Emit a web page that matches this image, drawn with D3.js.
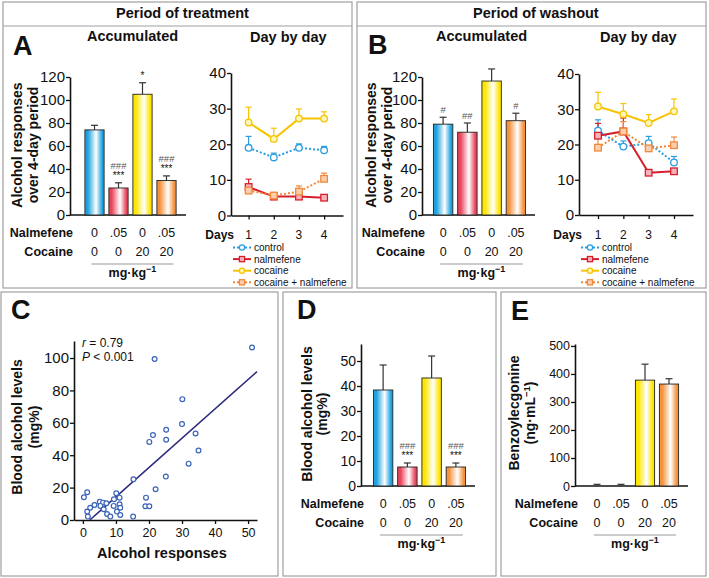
<!DOCTYPE html>
<html><head><meta charset="utf-8">
<script src="https://cdn.jsdelivr.net/npm/d3@7"></script>
<style>
body{margin:0;background:#fff}
text{font-family:"Liberation Sans",Arial,sans-serif;fill:#111}
</style></head>
<body><svg id="fig" width="709" height="578"></svg>
<script>
const groups = ["control", "nalmefene", "cocaine", "cocaine + nalmefene"];
const nalmefeneDoses = ["0", ".05", "0", ".05"];
const cocaineDoses = ["0", "0", "20", "20"];
const days = [1, 2, 3, 4];

// A - accumulated, treatment
const treatAccMean = [74, 23.5, 105, 30];
const treatAccSem = [4, 4.5, 10, 4];
const treatAccMarks = [[], ["***", "###"], ["*"], ["***", "###"]];
// B - accumulated, washout
const washAccMean = [79, 72, 116.5, 82];
const washAccSem = [6, 8, 10.5, 6.5];
const washAccMarks = [["#"], ["##"], [], ["#"]];

// day by day, treatment
const treatControl = [19.0, 16.3, 19.0, 18.3], treatControlSem = [3.2, 1.2, 1.1, 1.1];
const treatNalm = [8.0, 5.3, 5.3, 5.0], treatNalmSem = [2.2, 0.5, 0.4, 0.4];
const treatCoc = [26.1, 21.5, 27.2, 27.2], treatCocSem = [4.3, 3.0, 2.7, 1.9];
const treatCocNal = [7.0, 5.6, 6.7, 10.3], treatCocNalSem = [0.8, 0.5, 1.6, 1.6];
// day by day, washout
const washControl = [23.9, 19.4, 20.4, 14.9], washControlSem = [3.1, 1.6, 1.9, 1.7];
const washNalm = [22.5, 23.7, 12.0, 12.4], washNalmSem = [3.5, 3.8, 0.4, 0.5];
const washCoc = [30.8, 28.6, 26.1, 29.4], washCocSem = [4.0, 3.0, 2.4, 3.5];
const washCocNal = [19.1, 23.7, 18.9, 19.8], washCocNalSem = [3.0, 2.8, 1.5, 2.3];

// C - correlation
const alcoholResponses = [21.7, 30.1, 30.0, 25.2, 21.2, 20.1, 25.2, 34.1, 35.0, 32.0, 25.1, 15.3, 22.0, 19.1, 18.9, 20.1, 15.2,
  0.3, 1.3, 1.3, 1.5, 2.2, 3.5, 5.1, 6.1, 7.1, 5.3, 6.3, 7.3, 8.3, 9.3, 9.4, 10.1, 11.1, 11.1, 11.3, 10.3, 11.3, 51.2];
const bloodAlcohol = [99.4, 74.6, 59.2, 55.7, 52.4, 48.2, 49.5, 53.4, 42.9, 34.8, 26.8, 25.2, 19.0, 13.8, 8.5, 8.5, 2.1,
  14.0, 17.1, 5.2, 2.1, 7.6, 9.3, 11.3, 10.7, 10.3, 8.7, 6.6, 3.7, 2.1, 8.7, 12.8, 16.5, 13.8, 9.7, 7.6, 5.2, 3.1, 106.5];
const regSlope = 1.81, regIntercept = -3.8;

// D - blood alcohol
const bloodMean = [38.4, 7.6, 43.2, 7.6];
const bloodSem = [10, 1.6, 8.8, 1.6];
const bloodMarks = [[], ["***", "###"], [], ["***", "###"]];
// E - benzoylecgonine
const bzeMean = [1, 1, 378, 364];
const bzeSem = [5, 5, 57, 19];

const barColors = ["#1ea2df", "#e8465c", "#ffe500", "#f4923c"];
const lineColors = ["#2a9ee0", "#d61f2c", "#f6c400", "#f0893a"];
const markerFills = ["#ffffff", "#f7b3bb", "#fff6b8", "#fbcfae"];
const markerShapes = ["circle", "square", "circle", "square"];
const lineDash = ["2,2", null, null, "2,2"];

const svg = d3.select("#fig");
const defs = svg.append("defs");
barColors.forEach(function (c, i) {
    const g = defs.append("linearGradient").attr("id", "bar" + i)
        .attr("x1", "0").attr("x2", "1").attr("y1", "0").attr("y2", "0");
    [[0, c], [0.15, c], [0.58, "#ffffff"], [0.9, c], [1, c]].forEach(function (s) {
        g.append("stop").attr("offset", s[0]).attr("stop-color", s[1]);
    });
});

function box(x, y, w, h) {
    svg.append("rect").attr("x", x).attr("y", y).attr("width", w).attr("height", h)
        .attr("fill", "none").attr("stroke", "#a0a0a0").attr("stroke-width", 1.2);
}
function txt(x, y, s, size, weight, anchor) {
    return svg.append("text").attr("x", x).attr("y", y).text(s)
        .style("font-size", size + "px").style("font-weight", weight || "normal")
        .attr("text-anchor", anchor || "start");
}
function vlabel(x, cy, s, size) {
    return svg.append("text").attr("transform", "translate(" + x + "," + cy + ") rotate(-90)")
        .attr("text-anchor", "middle").style("font-size", size + "px").style("font-weight", "bold").text(s);
}
function styleAxis(g, size) {
    g.select(".domain").attr("stroke", "#111").attr("stroke-width", 1.6);
    g.selectAll(".tick line").attr("stroke", "#111").attr("stroke-width", 1.3);
    g.selectAll(".tick text").style("font-size", size + "px").attr("fill", "#111")
        .style("font-family", "Liberation Sans, Arial, sans-serif");
}

// frames
box(3, 2, 349, 286);
box(357, 2, 349, 286);
svg.append("line").attr("x1", 3).attr("x2", 352).attr("y1", 26).attr("y2", 26).attr("stroke", "#a0a0a0").attr("stroke-width", 1.2);
svg.append("line").attr("x1", 357).attr("x2", 706).attr("y1", 26).attr("y2", 26).attr("stroke", "#a0a0a0").attr("stroke-width", 1.2);
box(1, 292, 277, 284);
box(283, 292, 213, 284);
box(501, 292, 205, 284);

txt(116, 18, "Period of treatment", 14.5, "bold");
txt(473, 18, "Period of washout", 14.5, "bold");
txt(13, 55, "A", 27, "bold");
txt(368, 54, "B", 27, "bold");
txt(11, 319, "C", 27, "bold");
txt(297, 319, "D", 27, "bold");
txt(511, 320, "E", 27, "bold");
txt(87, 41, "Accumulated", 14.5, "bold");
txt(436, 41, "Accumulated", 14.5, "bold");
txt(250, 42, "Day by day", 14.5, "bold");
txt(600, 42, "Day by day", 14.5, "bold");

function barPanel(c) {
    const y = d3.scaleLinear().domain([0, c.yMax]).range([c.y0, c.yTop]);
    const x = d3.scaleBand().domain(groups).range(c.band).paddingInner(0.2).paddingOuter(0.1);
    const ax = svg.append("g").attr("transform", "translate(" + c.axisX + ",0)")
        .call(d3.axisLeft(y).tickValues(c.ticks).tickSize(4).tickSizeOuter(0).tickPadding(1));
    styleAxis(ax, c.tickSize);
    svg.append("line").attr("x1", c.axisX).attr("x2", c.xEnd).attr("y1", c.y0).attr("y2", c.y0)
        .attr("stroke", "#111").attr("stroke-width", 1.6);
    groups.forEach(function (gname, i) {
        const bx = x(gname), bw = x.bandwidth(), cx = bx + bw / 2;
        const top = y(c.mean[i] + c.sem[i]);
        svg.append("line").attr("x1", cx).attr("x2", cx).attr("y1", y(c.mean[i])).attr("y2", top)
            .attr("stroke", "#333").attr("stroke-width", 1.2);
        svg.append("line").attr("x1", cx - 3.5).attr("x2", cx + 3.5).attr("y1", top).attr("y2", top)
            .attr("stroke", "#333").attr("stroke-width", 1.2);
        if (c.mean[i] > 2) {
            svg.append("rect").attr("x", bx).attr("y", y(c.mean[i])).attr("width", bw)
                .attr("height", c.y0 - y(c.mean[i])).attr("fill", "url(#bar" + i + ")")
                .attr("stroke", "#222").attr("stroke-width", 0.9);
        }
        (c.marks ? c.marks[i] : []).forEach(function (m, k) {
            const t = txt(cx, top - 4 - 10 * k, m, 10, "normal", "middle");
            if (m[0] == "#") t.style("fill", "#555").style("font-size", "9.5px");
        });
    });
    // dose table
    const c0 = x(groups[0]) + x.bandwidth() / 2, c3 = x(groups[3]) + x.bandwidth() / 2;
    txt(c.axisX + 3, c.y0 + 22, "Nalmefene", 12.5, "bold", "end");
    txt(c.axisX + 3, c.y0 + 41, "Cocaine", 12.5, "bold", "end");
    groups.forEach(function (gname, i) {
        const cx = x(gname) + x.bandwidth() / 2;
        txt(cx, c.y0 + 22, nalmefeneDoses[i], 12.5, "normal", "middle");
        txt(cx, c.y0 + 41, cocaineDoses[i], 12.5, "normal", "middle");
    });
    svg.append("line").attr("x1", c0 - 3).attr("x2", c3 + 7).attr("y1", c.y0 + 49).attr("y2", c.y0 + 49)
        .attr("stroke", "#999").attr("stroke-width", 1);
    const u = txt((c0 + c3) / 2 + 2, c.y0 + 62, "mg\u00b7kg", 12.5, "bold", "middle");
    u.append("tspan").attr("dy", -5).style("font-size", "9px").text("\u22121");
}

barPanel({axisX: 70, y0: 215, yTop: 77, yMax: 120, ticks: [0, 20, 40, 60, 80, 100, 120], band: [82.5, 178.5],
    xEnd: 186, mean: treatAccMean, sem: treatAccSem, marks: treatAccMarks, tickSize: 15});
barPanel({axisX: 422, y0: 215, yTop: 77, yMax: 120, ticks: [0, 20, 40, 60, 80, 100, 120], band: [431, 528],
    xEnd: 535, mean: washAccMean, sem: washAccSem, marks: washAccMarks, tickSize: 15});
barPanel({axisX: 361, y0: 486, yTop: 344, yMax: 56.8, ticks: [0, 10, 20, 30, 40, 50], band: [371, 468],
    xEnd: 475, mean: bloodMean, sem: bloodSem, marks: bloodMarks, tickSize: 14});
barPanel({axisX: 575, y0: 486, yTop: 344, yMax: 507, ticks: [0, 100, 200, 300, 400, 500], band: [585, 681],
    xEnd: 688, mean: bzeMean, sem: bzeSem, marks: null, tickSize: 12.5});

vlabel(22, 145, "Alcohol responses", 14);
vlabel(38, 145, "over 4-day period", 14);
vlabel(376, 145, "Alcohol responses", 14);
vlabel(392, 145, "over 4-day period", 14);
vlabel(312, 414, "Blood alcohol levels", 14);
vlabel(327, 414, "(mg%)", 14);
vlabel(519, 413, "Benzoylecgonine", 14);
const bzeUnit = vlabel(535, 413, "(ng\u00b7mL", 14);
bzeUnit.append("tspan").attr("dy", -5).style("font-size", "9.5px").text("\u22121");
bzeUnit.append("tspan").attr("dy", 5).text(")");

function marker(g, shape, cx, cy, i, r) {
    if (shape == "circle") {
        g.append("circle").attr("cx", cx).attr("cy", cy).attr("r", r)
            .attr("fill", markerFills[i]).attr("stroke", lineColors[i]).attr("stroke-width", 1.3);
    } else {
        g.append("rect").attr("x", cx - r).attr("y", cy - r).attr("width", 2 * r).attr("height", 2 * r)
            .attr("fill", markerFills[i]).attr("stroke", lineColors[i]).attr("stroke-width", 1.3);
    }
}

function linePanel(c) {
    const x = d3.scaleLinear().domain(c.xDomain).range([c.axisX, c.xEnd]);
    const y = d3.scaleLinear().domain([0, 40]).range([c.y0, c.yTop]);
    const ay = svg.append("g").attr("transform", "translate(" + c.axisX + ",0)")
        .call(d3.axisLeft(y).tickValues([0, 10, 20, 30, 40]).tickSize(4).tickSizeOuter(0).tickPadding(1));
    styleAxis(ay, 15);
    const axg = svg.append("g").attr("transform", "translate(0," + c.y0 + ")")
        .call(d3.axisBottom(x).tickValues(days).tickSize(4).tickSizeOuter(0).tickFormat(""));
    styleAxis(axg, 12);
    txt(c.axisX + 3, 239, "Days", 12, "bold", "end");
    days.forEach(function (d) { txt(x(d), 238.5, d, 12, "normal", "middle"); });

    const line = d3.line().x((d, k) => x(days[k])).y(d => y(d));
    const g = svg.append("g");
    c.series.forEach(function (s, i) {
        s.vals.forEach(function (v, k) {
            const top = y(v + s.sem[k]);
            g.append("line").attr("x1", x(days[k])).attr("x2", x(days[k])).attr("y1", y(v)).attr("y2", top)
                .attr("stroke", lineColors[i]).attr("stroke-width", 1.2);
            g.append("line").attr("x1", x(days[k]) - 3).attr("x2", x(days[k]) + 3).attr("y1", top).attr("y2", top)
                .attr("stroke", lineColors[i]).attr("stroke-width", 1.2);
        });
    });
    c.series.forEach(function (s, i) {
        g.append("path").datum(s.vals).attr("d", line).attr("fill", "none")
            .attr("stroke", lineColors[i]).attr("stroke-width", 2)
            .attr("stroke-dasharray", lineDash[i]);
        s.vals.forEach(function (v, k) { marker(g, markerShapes[i], x(days[k]), y(v), i, 3.3); });
    });
    // legend
    groups.forEach(function (name, i) {
        const ly = 247.5 + 11.6 * i, lx0 = c.axisX + 2, lx1 = c.axisX + 20;
        svg.append("line").attr("x1", lx0).attr("x2", lx1).attr("y1", ly).attr("y2", ly)
            .attr("stroke", lineColors[i]).attr("stroke-width", 2).attr("stroke-dasharray", lineDash[i]);
        marker(svg, markerShapes[i], (lx0 + lx1) / 2, ly, i, 2.6);
        txt(lx1 + 3, ly + 3.6, name, 10, "normal");
    });
}

linePanel({axisX: 231, xEnd: 343, xDomain: [0.3, 4.75], y0: 215.5, yTop: 73, series: [
    {vals: treatControl, sem: treatControlSem}, {vals: treatNalm, sem: treatNalmSem},
    {vals: treatCoc, sem: treatCocSem}, {vals: treatCocNal, sem: treatCocNalSem}]});
linePanel({axisX: 579, xEnd: 693, xDomain: [0.25, 4.75], y0: 215, yTop: 74, series: [
    {vals: washControl, sem: washControlSem}, {vals: washNalm, sem: washNalmSem},
    {vals: washCoc, sem: washCocSem}, {vals: washCocNal, sem: washCocNalSem}]});

// C scatter
const sx = d3.scaleLinear().domain([-2.7, 52.7]).range([74, 257]);
const sy = d3.scaleLinear().domain([0, 110.5]).range([520, 341]);
const cy = svg.append("g").attr("transform", "translate(74,0)")
    .call(d3.axisLeft(sy).tickValues([0, 20, 40, 60, 80, 100]).tickSize(4).tickSizeOuter(0).tickPadding(1));
styleAxis(cy, 15);
const cx = svg.append("g").attr("transform", "translate(0,520)")
    .call(d3.axisBottom(sx).tickValues([0, 10, 20, 30, 40, 50]).tickSize(4).tickSizeOuter(0).tickPadding(4));
styleAxis(cx, 12.5);
const xStart = -regIntercept / regSlope;
svg.append("line").attr("x1", sx(xStart)).attr("y1", sy(0))
    .attr("x2", sx(52.7)).attr("y2", sy(regIntercept + regSlope * 52.7))
    .attr("stroke", "#2b2a7c").attr("stroke-width", 1.6);
svg.append("g").selectAll("circle").data(alcoholResponses).enter().append("circle")
    .attr("cx", d => sx(d)).attr("cy", (d, i) => sy(bloodAlcohol[i])).attr("r", 2.4)
    .attr("fill", "#fff").attr("stroke", "#3a64b8").attr("stroke-width", 1.2);
const rt = txt(82, 347, "", 12, "normal");
rt.append("tspan").style("font-style", "italic").text("r");
rt.append("tspan").text(" = 0.79");
const pt = txt(82, 361, "", 12, "normal");
pt.append("tspan").style("font-style", "italic").text("P");
pt.append("tspan").text(" < 0.001");
txt(97, 558, "Alcohol responses", 14.5, "bold");
vlabel(22, 427, "Blood alcohol levels", 14);
vlabel(39, 427, "(mg%)", 14);
</script>
</body></html>
